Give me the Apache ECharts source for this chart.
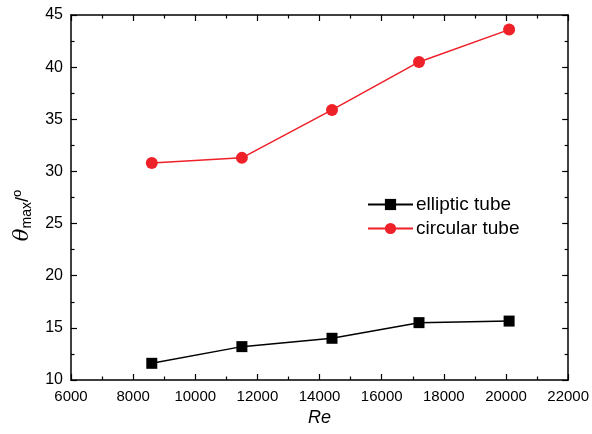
<!DOCTYPE html>
<html>
<head>
<meta charset="utf-8">
<script src="https://cdn.jsdelivr.net/npm/echarts@6/dist/echarts.min.js"></script>
<style>
  html, body { margin: 0; padding: 0; background: #fff; }
  #chart { width: 592px; height: 434px; }
</style>
</head>
<body>
<div id="chart"></div>
<script>
// Reynolds numbers and maximum angle for each tube shape
const reynolds = [8600, 11500, 14400, 17200, 20100];
const ellipticTheta = [11.6, 13.2, 14.0, 15.5, 15.65];
const circularTheta = [30.8, 31.3, 35.9, 40.5, 43.6];
const seriesNames = ['elliptic tube', 'circular tube'];

const font = 'Liberation Sans, Arial, sans-serif';

function pairs(xs, ys) {
  return xs.map((x, i) => [x, ys[i]]);
}

const tickStyle = { show: true, inside: true, length: 6, lineStyle: { color: '#000', width: 1.2 } };
const minorStyle = { show: true, splitNumber: 2, length: 3.5, lineStyle: { color: '#000', width: 1.2 } };

const chart = echarts.init(document.getElementById('chart'));
chart.setOption({
  animation: false,
  backgroundColor: '#fff',
  grid: { left: 71, right: 23, top: 15, bottom: 54 },
  legend: {
    orient: 'vertical',
    left: 362,
    top: 190,
    itemWidth: 45,
    itemHeight: 14,
    itemGap: 5,
    textStyle: { fontFamily: font, fontSize: 19, color: '#000', padding: [0, 0, 0, -2] },
    data: seriesNames
  },
  xAxis: [{
    type: 'value',
    min: 6000, max: 22000, interval: 2000,
    name: 'Re',
    nameLocation: 'middle',
    nameGap: 29,
    nameTextStyle: { fontFamily: font, fontSize: 18, fontStyle: 'italic', color: '#000' },
    axisLine: { onZero: false, lineStyle: { color: '#000', width: 1.5 } },
    axisTick: tickStyle,
    minorTick: minorStyle,
    axisLabel: { fontFamily: font, fontSize: 15, color: '#000', margin: 9, formatter: v => String(v) },
    splitLine: { show: false }
  }, {
    type: 'value',
    position: 'top',
    min: 6000, max: 22000, interval: 2000,
    axisLine: { onZero: false, lineStyle: { color: '#000', width: 1.5 } },
    axisTick: tickStyle,
    minorTick: minorStyle,
    axisLabel: { show: false },
    splitLine: { show: false }
  }],
  yAxis: [{
    type: 'value',
    min: 10, max: 45, interval: 5,
    name: '{t|θ}{s|max}{n|/}{d|o}',
    nameLocation: 'middle',
    nameGap: 32,
    nameRotate: 90,
    nameTextStyle: {
      color: '#000',
      padding: [0, 36, 0, 0],
      rich: {
        t: { fontFamily: 'DejaVu Serif, serif', fontStyle: 'italic', fontSize: 21, color: '#000' },
        s: { fontFamily: font, fontSize: 14, color: '#000', verticalAlign: 'bottom', padding: [9, 0, 0, 0] },
        n: { fontFamily: font, fontSize: 18, color: '#000' },
        d: { fontFamily: font, fontSize: 13, color: '#000', verticalAlign: 'top', padding: [0, 0, 9, 0] }
      }
    },
    axisLine: { onZero: false, lineStyle: { color: '#000', width: 1.5 } },
    axisTick: tickStyle,
    minorTick: minorStyle,
    axisLabel: { fontFamily: font, fontSize: 16, color: '#000', margin: 8 },
    splitLine: { show: false }
  }, {
    type: 'value',
    position: 'right',
    min: 10, max: 45, interval: 5,
    axisLine: { onZero: false, lineStyle: { color: '#000', width: 1.5 } },
    axisTick: tickStyle,
    minorTick: minorStyle,
    axisLabel: { show: false },
    splitLine: { show: false }
  }],
  series: [{
    name: seriesNames[0],
    type: 'line',
    data: pairs(reynolds, ellipticTheta),
    symbol: 'rect',
    symbolSize: 11,
    itemStyle: { color: '#000' },
    lineStyle: { color: '#000', width: 1.5 }
  }, {
    name: seriesNames[1],
    type: 'line',
    data: pairs(reynolds, circularTheta),
    symbol: 'circle',
    symbolSize: 12,
    itemStyle: { color: '#ee2028' },
    lineStyle: { color: '#ee2028', width: 1.5 }
  }]
});
</script>
</body>
</html>
